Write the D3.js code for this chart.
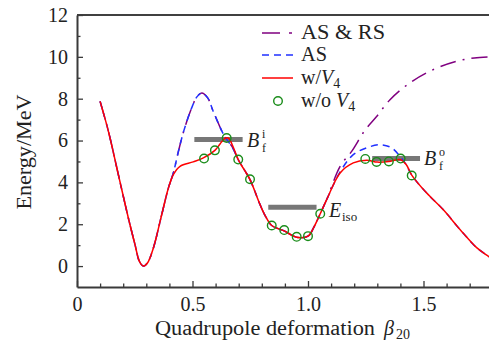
<!DOCTYPE html>
<html><head><meta charset="utf-8">
<script src="https://cdn.jsdelivr.net/npm/d3@7"></script>
<style>
body{margin:0;background:#fff;}
svg{display:block;}
text{font-family:"Liberation Serif","Times New Roman",serif;}
</style></head>
<body>
<svg id="c" width="489" height="343"></svg>
<script>
// w/V4 (red solid)
const betaRed = [0.10,0.136,0.179,0.222,0.251,0.27,0.287,0.305,0.331,0.367,0.396,0.417,0.446,0.503,0.547,0.597,0.62,0.64,0.655,0.672,0.698,0.749,0.79,0.815,0.843,0.897,0.951,1.0,1.025,1.053,1.081,1.139,1.196,1.254,1.30,1.35,1.398,1.425,1.449,1.513,1.585,1.658,1.73,1.78,1.80];
const eRed    = [7.87,6.44,4.37,2.31,1.03,0.23,0.0,0.15,0.88,2.47,3.74,4.37,4.77,4.98,5.17,5.53,5.85,6.10,6.12,5.80,5.09,4.13,3.00,2.40,1.94,1.68,1.38,1.43,1.85,2.50,3.18,4.45,4.93,5.06,4.97,5.00,5.09,4.85,4.35,3.50,2.70,1.75,0.88,0.48,0.33];
// AS (blue dashed)
const betaAS = [0.10,0.136,0.179,0.222,0.251,0.27,0.287,0.305,0.331,0.367,0.396,0.417,0.439,0.462,0.496,0.52,0.54,0.565,0.59,0.634,0.655,0.672,0.698,0.749,0.79,0.815,0.843,0.897,0.951,1.0,1.025,1.053,1.081,1.139,1.196,1.254,1.312,1.362,1.398,1.425,1.449,1.513,1.585,1.658,1.73,1.78,1.80];
const eAS    = [7.87,6.44,4.37,2.31,1.03,0.23,0.0,0.15,0.88,2.47,3.74,4.45,5.48,6.45,7.55,8.10,8.27,8.05,7.39,6.30,5.95,5.70,5.09,4.13,3.00,2.40,1.94,1.68,1.38,1.43,1.85,2.50,3.18,4.50,5.33,5.65,5.80,5.65,5.25,4.85,4.35,3.50,2.70,1.75,0.88,0.48,0.33];
// AS & RS (purple dash-dot)
const betaASRS = [0.10,0.136,0.179,0.222,0.251,0.27,0.287,0.305,0.331,0.367,0.396,0.417,0.439,0.462,0.496,0.52,0.54,0.565,0.59,0.634,0.655,0.672,0.698,0.749,0.79,0.815,0.843,0.897,0.951,1.0,1.025,1.053,1.081,1.139,1.189,1.247,1.297,1.355,1.44,1.54,1.64,1.72,1.80];
const eASRS    = [7.87,6.44,4.37,2.31,1.03,0.23,0.0,0.15,0.88,2.47,3.74,4.45,5.48,6.45,7.55,8.10,8.27,8.05,7.39,6.30,5.95,5.70,5.09,4.13,3.00,2.40,1.94,1.68,1.38,1.43,1.85,2.50,3.18,4.77,5.48,6.50,7.15,7.95,8.75,9.38,9.78,9.95,10.0];
// w/o V4 (green circles)
const betaNoV4 = [0.55,0.597,0.648,0.698,0.749,0.843,0.897,0.951,1.0,1.053,1.248,1.297,1.35,1.401,1.449];
const eNoV4    = [5.14,5.53,6.12,5.09,4.15,1.94,1.72,1.40,1.43,2.50,5.12,4.98,5.00,5.14,4.33];
// horizontal reference bars
const barNames = ["Bi","Eiso","Bo"];
const barFrom  = [0.508,0.828,1.278];
const barTo    = [0.717,1.037,1.485];
const barE     = [6.05,2.81,5.14];
// ticks
const xMajor = [0,0.5,1.0,1.5];
const xMinor = [0.1,0.2,0.3,0.4,0.6,0.7,0.8,0.9,1.1,1.2,1.3,1.4,1.6,1.7];
const yMajor = [0,2,4,6,8,10,12];
const yMinor = [1,3,5,7,9,11];

const svg = d3.select("#c");
const x = d3.scaleLinear().domain([0,1.8]).range([77, 77+1.8*231]);
const y = d3.scaleLinear().domain([-1,12]).range([287,15]);
const axisCol = "#3a3a3a";
const txtCol = "#222";

// top border
svg.append("line").attr("x1",x(0)).attr("x2",x(1.8)).attr("y1",y(12)).attr("y2",y(12))
  .attr("stroke","#000").attr("stroke-width",1.5);

function styleAxis(g){
  g.selectAll("path").attr("stroke",axisCol).attr("stroke-width",2);
  g.selectAll("line").attr("stroke",axisCol).attr("stroke-width",1.3);
  g.selectAll("text").attr("font-size",20).attr("fill",txtCol)
   .attr("font-family","'Liberation Serif',serif");
}
const gx = svg.append("g").attr("transform",`translate(0,${y(-1)})`)
  .call(d3.axisBottom(x).tickValues(xMajor).tickSizeInner(-6).tickSizeOuter(0).tickPadding(10)
    .tickFormat(d => d===0 ? "0" : d.toFixed(1)));
styleAxis(gx);
const gxm = svg.append("g").attr("transform",`translate(0,${y(-1)})`)
  .call(d3.axisBottom(x).tickValues(xMinor).tickSizeInner(-3.5).tickSizeOuter(0).tickFormat(""));
styleAxis(gxm); gxm.select("path").remove();

const gy = svg.append("g").attr("transform",`translate(${x(0)},0)`)
  .call(d3.axisLeft(y).tickValues(yMajor).tickSizeInner(-6).tickSizeOuter(0).tickPadding(9));
styleAxis(gy);
const gym = svg.append("g").attr("transform",`translate(${x(0)},0)`)
  .call(d3.axisLeft(y).tickValues(yMinor).tickSizeInner(-3.5).tickSizeOuter(0).tickFormat(""));
styleAxis(gym); gym.select("path").remove();

// axis titles
svg.append("text").attr("transform",`translate(24,152) rotate(-90)`).attr("text-anchor","middle")
  .attr("dominant-baseline","central").attr("font-size",20).attr("fill",txtCol)
  .attr("textLength",115).attr("lengthAdjust","spacingAndGlyphs").text("Energy/MeV");
svg.append("text").attr("x",155).attr("y",335).attr("font-size",20).attr("fill",txtCol)
  .attr("textLength",220).attr("lengthAdjust","spacingAndGlyphs").text("Quadrupole deformation");
svg.append("text").attr("x",384).attr("y",335).attr("font-size",20).attr("fill",txtCol)
  .attr("font-style","italic").text("β");
svg.append("text").attr("x",396).attr("y",339).attr("font-size",14).attr("fill",txtCol).text("20");

const plot = svg.append("g");
const mk = (bs,es) => bs.map((b,i)=>[b,es[i]]);
const line = d3.line().x(d=>x(d[0])).y(d=>y(d[1])).curve(d3.curveCatmullRom.alpha(0.5));

// bars
barNames.forEach((n,i)=>{
  plot.append("line").attr("x1",x(barFrom[i])).attr("x2",x(barTo[i]))
    .attr("y1",y(barE[i])).attr("y2",y(barE[i]))
    .attr("stroke","#777").attr("stroke-width",5);
});

plot.append("path").attr("d",line(mk(betaASRS,eASRS))).attr("fill","none")
  .attr("stroke","#800080").attr("stroke-width",1.5).attr("stroke-dasharray","16,7,2,7");
plot.append("path").attr("d",line(mk(betaAS,eAS))).attr("fill","none")
  .attr("stroke","#2030ff").attr("stroke-width",1.5).attr("stroke-dasharray","7,5");
plot.append("path").attr("d",line(mk(betaRed,eRed))).attr("fill","none")
  .attr("stroke","#ff0000").attr("stroke-width",1.5);
plot.selectAll("circle.p").data(mk(betaNoV4,eNoV4)).enter().append("circle")
  .attr("cx",d=>x(d[0])).attr("cy",d=>y(d[1])).attr("r",4.3)
  .attr("fill","none").attr("stroke","#1a8c1a").attr("stroke-width",1.4);

// bar labels
function labelB(xp,yp,sup){
  svg.append("text").attr("x",xp).attr("y",yp).attr("font-size",20).attr("fill",txtCol)
    .attr("font-style","italic").text("B");
  svg.append("text").attr("x",xp+15).attr("y",yp-9).attr("font-size",12).attr("fill",txtCol).text(sup);
  svg.append("text").attr("x",xp+15).attr("y",yp+5).attr("font-size",12).attr("fill",txtCol).text("f");
}
labelB(247,147,"i");
labelB(424,165,"o");
svg.append("text").attr("x",329).attr("y",217).attr("font-size",20).attr("fill",txtCol)
  .attr("font-style","italic").text("E");
svg.append("text").attr("x",342).attr("y",221).attr("font-size",13).attr("fill",txtCol).text("iso");

// legend
const legNames = ["AS & RS","AS","w/V4","w/o V4"];
const legWidth = [84,26,40,55];
const legY = [33,55,78,101];
const lg = svg.append("g");
lg.append("line").attr("x1",262).attr("x2",293).attr("y1",legY[0]).attr("y2",legY[0])
  .attr("stroke","#800080").attr("stroke-width",1.5).attr("stroke-dasharray","18,9,3,9");
lg.append("line").attr("x1",262).attr("x2",293).attr("y1",legY[1]).attr("y2",legY[1])
  .attr("stroke","#2030ff").attr("stroke-width",1.5).attr("stroke-dasharray","7,5");
lg.append("line").attr("x1",262).attr("x2",293).attr("y1",legY[2]).attr("y2",legY[2])
  .attr("stroke","#ff0000").attr("stroke-width",1.5);
lg.append("circle").attr("cx",278).attr("cy",legY[3]).attr("r",4.3)
  .attr("fill","none").attr("stroke","#1a8c1a").attr("stroke-width",1.4);
legNames.forEach((n,i)=>{
  if (n.includes("V4")) {
    const pre = n.replace("V4","");
    const t = lg.append("text").attr("x",301).attr("y",legY[i]+6).attr("font-size",20).attr("fill",txtCol);
    t.append("tspan").text(pre);
    t.append("tspan").attr("font-style","italic").text("V");
    t.append("tspan").attr("font-size",14).attr("dy",4).text("4");
  } else {
    lg.append("text").attr("x",301).attr("y",legY[i]+6).attr("font-size",20).attr("fill",txtCol)
      .attr("textLength",legWidth[i]).attr("lengthAdjust","spacingAndGlyphs").text(n);
  }
});
</script>
</body></html>
